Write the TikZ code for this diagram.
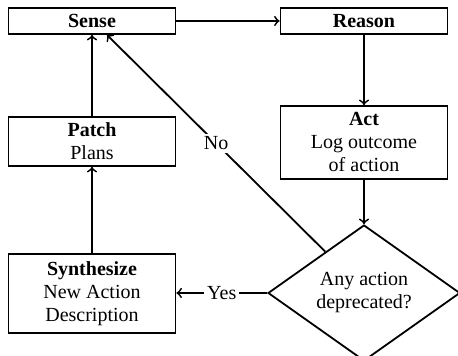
\documentclass[tikz,border=0pt]{standalone}
\usepackage{fontspec}
\setmainfont{Liberation Serif}
\usetikzlibrary{shapes.geometric,calc}
\begin{document}
\begin{tikzpicture}[x=0.5pt,y=-0.5pt,
  every node/.style={font=\fontsize{10}{11.5}\selectfont},
  box/.style={draw,line width=0.9pt,minimum width=83.5pt,align=center,inner sep=0pt},
  arr/.style={->,line width=0.9pt},
  lbl/.style={fill=white,inner sep=1.5pt}]
\useasboundingbox (0,0) rectangle (458,356);
\node[box,minimum height=13pt] (sense) at (92,21) {\textbf{Sense}};
\node[box,minimum height=13pt] (reason) at (364,21) {\textbf{Reason}};
\node[box,minimum height=36.5pt] (act) at (364,142.5) {\textbf{Act}\\Log outcome\\of action};
\node[box,minimum height=24.5pt] (patch) at (92,141.5) {\textbf{Patch}\\Plans};
\node[box,minimum height=39.5pt] (synth) at (92,293.5) {\textbf{Synthesize}\\New Action\\Description};
\node[draw,diamond,line width=0.9pt,minimum width=96pt,minimum height=64pt,inner sep=0pt,align=center] (dec) at (364,293) {Any action\\deprecated?};
\coordinate (decno) at ($(dec.west)!0.6!(dec.north)$);
\coordinate (senseno) at ($(sense.south)+(15,0)$);
\draw[arr] (sense) -- (reason);
\draw[arr] (reason) -- (act);
\draw[arr] (act) -- (dec);
\draw[arr] (synth) -- (patch);
\draw[arr] (patch) -- (sense);
\draw[arr] (dec.west) -- node[lbl]{Yes} (synth.east |- dec.west);
\draw[arr] (decno) -- node[lbl]{No} (senseno);
\end{tikzpicture}
\end{document}
